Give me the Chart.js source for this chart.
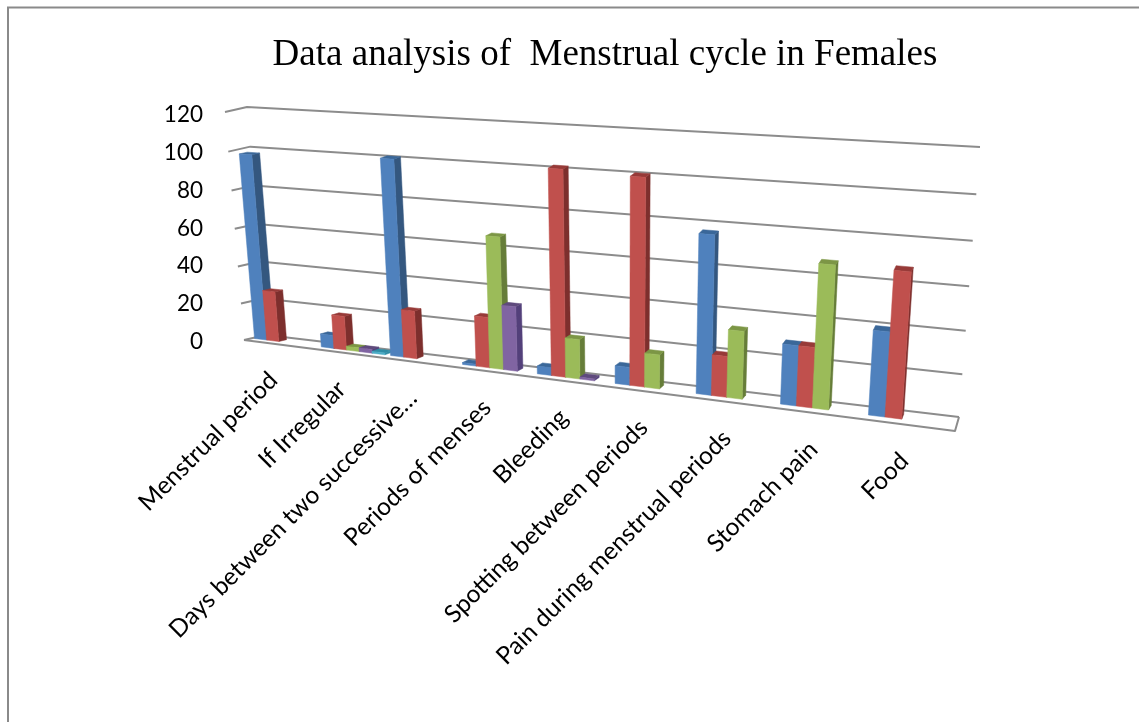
<!DOCTYPE html>
<html>
<head>
<meta charset="utf-8">
<title>Data analysis of Menstrual cycle in Females</title>
<style>
  html, body { margin: 0; padding: 0; background: #fff; overflow: hidden; }
  canvas { display: block; }
</style>
<script src="https://cdn.jsdelivr.net/npm/chart.js@4"></script>
</head>
<body>
<canvas id="chart" width="1139" height="722"></canvas>
<script>
// values, null = no bar in that slot
const categories = ['Menstrual period', 'If Irregular', 'Days between two successive…', 'Periods of menses',
    'Bleeding', 'Spotting between periods', 'Pain during menstrual periods', 'Stomach pain', 'Food'];
const seriesA = [98, 7, 101, 1, 4, 9, 77, 29, 40];
const seriesB = [27, 18, 25, 26, 102, 101, 20, 29, 68];
const seriesC = [null, 2, null, 67, 20, 17, 33, 68, null];
const seriesD = [null, 2, null, 33, 1, null, null, null, null];
const seriesE = [null, 1, null, null, null, null, null, null, null];
const yMax = 120;
const yStep = 20;

const frontColors = ['#4f81bd', '#c0504d', '#9bbb59', '#8064a2', '#4bacc6'];
const sideColors = ['#34577f', '#7d2f2d', '#667d39', '#53407a', '#2f8ca5'];
const topColors = ['#3a6799', '#973a38', '#7c9645', '#5f4a7d', '#2f8ca5'];

const gridColor = '#8c8c8c';
const frameColor = '#8a8a8a';

// corners of the back wall and of the front of the floor, as photographed
const wallQuad = [[247, 107], [980, 147], [959, 417], [266, 335]];
const frontQuad = [[225, 112], [976, 161], [955, 431], [244, 340]];
const barBack = 0.28;
const barFront = 0.64;

function makeHomography(q) {
    const [p0, p1, p2, p3] = q;
    const dx1 = p1[0] - p2[0], dx2 = p3[0] - p2[0], sx = p0[0] - p1[0] + p2[0] - p3[0];
    const dy1 = p1[1] - p2[1], dy2 = p3[1] - p2[1], sy = p0[1] - p1[1] + p2[1] - p3[1];
    const den = dx1 * dy2 - dx2 * dy1;
    const g = (sx * dy2 - dx2 * sy) / den;
    const h = (dx1 * sy - sx * dy1) / den;
    const a = p1[0] - p0[0] + g * p1[0], b = p3[0] - p0[0] + h * p3[0];
    const d = p1[1] - p0[1] + g * p1[1], e = p3[1] - p0[1] + h * p3[1];
    return (u, v) => {
        const w = g * u + h * v + 1;
        return [(a * u + b * v + p0[0]) / w, (d * u + e * v + p0[1]) / w];
    };
}
const wallAt = makeHomography(wallQuad);
const frontAt = makeHomography(frontQuad);

// u across the categories, v down the value axis, depth 0 = wall, 1 = front edge
function project(u, v, depth) {
    const a = wallAt(u, v), b = frontAt(u, v);
    return [a[0] + (b[0] - a[0]) * depth, a[1] + (b[1] - a[1]) * depth];
}

function fillPoly(ctx, pts, color) {
    ctx.beginPath();
    pts.forEach((p, i) => i ? ctx.lineTo(p[0], p[1]) : ctx.moveTo(p[0], p[1]));
    ctx.closePath();
    ctx.fillStyle = color;
    ctx.fill();
    // same colour hairline so neighbouring faces don't leave seams
    ctx.strokeStyle = color;
    ctx.lineWidth = 0.5;
    ctx.stroke();
}

function strokeLine(ctx, pts) {
    ctx.beginPath();
    pts.forEach((p, i) => i ? ctx.lineTo(p[0], p[1]) : ctx.moveTo(p[0], p[1]));
    ctx.stroke();
}

const perspectivePlugin = {
    id: 'perspective',
    beforeDraw(chart) {
        const ctx = chart.ctx;
        ctx.save();
        ctx.fillStyle = '#fff';
        ctx.fillRect(0, 0, chart.width, chart.height);
        // page frame, open at the right and bottom
        ctx.strokeStyle = frameColor;
        ctx.lineWidth = 2;
        strokeLine(ctx, [[8, chart.height], [8, 7.5], [chart.width, 7.5]]);
        ctx.restore();
    },
    beforeDatasetsDraw(chart) {
        const ctx = chart.ctx;
        const area = chart.chartArea;
        const yScale = chart.scales.y;
        const xScale = chart.scales.x;
        const toU = x => (x - area.left) / (area.right - area.left);
        const toV = y => (y - area.top) / (area.bottom - area.top);

        ctx.save();
        // grid lines run along the left side and across the back wall
        ctx.strokeStyle = gridColor;
        ctx.lineWidth = 2;
        ctx.lineJoin = 'round';
        yScale.ticks.forEach(tick => {
            const v = toV(yScale.getPixelForValue(tick.value));
            strokeLine(ctx, [project(0, v, 1), project(0, v, 0), project(1, v, 0)]);
        });
        // floor outline
        strokeLine(ctx, [project(0, 1, 1), project(1, 1, 1), project(1, 1, 0)]);

        // bars, left to right so later bars cover the side of the previous one
        categories.forEach((label, i) => {
            chart.data.datasets.forEach((ds, s) => {
                if (ds.data[i] === null) return;
                const bar = chart.getDatasetMeta(s).data[i];
                const u0 = toU(bar.x - bar.width / 2);
                const u1 = toU(bar.x + bar.width / 2);
                const vt = toV(bar.y);
                const vb = toV(bar.base);
                const f = (u, v) => project(u, v, barFront);
                const b = (u, v) => project(u, v, barBack);
                fillPoly(ctx, [f(u1, vt), b(u1, vt), b(u1, vb), f(u1, vb)], sideColors[s]);
                fillPoly(ctx, [f(u0, vt), b(u0, vt), b(u1, vt), f(u1, vt)], topColors[s]);
                fillPoly(ctx, [f(u0, vt), f(u1, vt), f(u1, vb), f(u0, vb)], frontColors[s]);
            });
        });

        // category labels hang off the front edge of the floor at 45 degrees
        ctx.fillStyle = '#000';
        ctx.font = '24.5px Lato';
        ctx.textAlign = 'right';
        ctx.textBaseline = 'middle';
        categories.forEach((label, i) => {
            const p = project(toU(xScale.getPixelForValue(i)), 1, 1);
            ctx.save();
            ctx.translate(p[0] - 4, p[1] + 32);
            ctx.rotate(-Math.PI / 4);
            ctx.fillText(label, 0, 0);
            ctx.restore();
        });
        ctx.restore();
        return false; // the faces above replace the flat bars
    }
};

const datasets = [seriesA, seriesB, seriesC, seriesD, seriesE].map((data, s) => ({
    label: 'Series ' + (s + 1),
    data: data,
    backgroundColor: frontColors[s],
    categoryPercentage: 0.92,
    barPercentage: 1
}));

new Chart(document.getElementById('chart'), {
    type: 'bar',
    data: { labels: categories, datasets: datasets },
    plugins: [perspectivePlugin],
    options: {
        responsive: false,
        animation: false,
        layout: { padding: { left: 0, right: 152, top: 33.5, bottom: 380 } },
        plugins: {
            legend: { display: false },
            tooltip: { enabled: false },
            title: {
                display: true,
                text: 'Data analysis of  Menstrual cycle in Females',
                fullSize: false,
                color: '#000',
                font: { family: 'Liberation Serif', size: 37, weight: 'normal' },
                padding: { top: 0, bottom: 36.6 }
            }
        },
        scales: {
            x: { display: false },
            y: {
                min: 0,
                max: yMax,
                grid: { display: false, drawTicks: false },
                border: { display: false },
                ticks: { stepSize: yStep, padding: 20, color: '#000', font: { family: 'Lato', size: 22.5 } },
                afterFit(scale) { scale.width = 223; }
            }
        }
    }
});
</script>
</body>
</html>
